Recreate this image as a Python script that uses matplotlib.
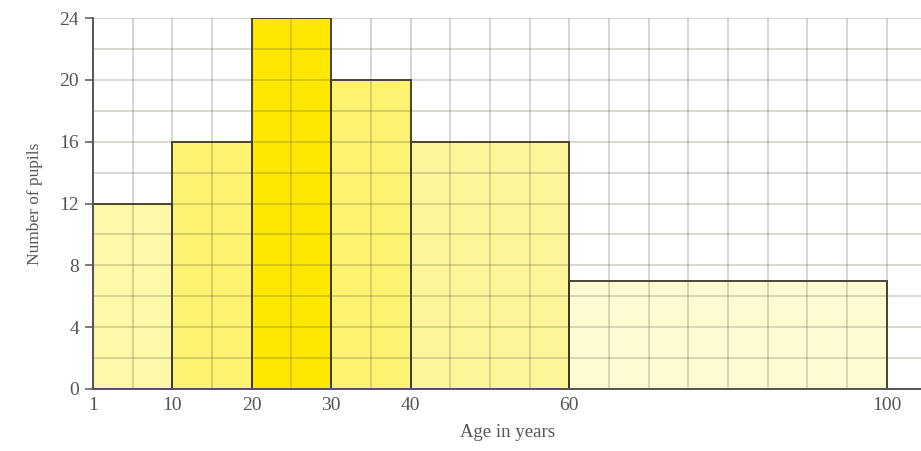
import matplotlib.pyplot as plt
from matplotlib.ticker import MultipleLocator

# class boundaries (the "1" label sits at the origin)
edges = [0, 10, 20, 30, 40, 60, 100]
heights = [12, 16, 24, 20, 16, 7]
colors = ['#fdf7a8', '#fdf370', '#ffe800', '#fdf370', '#fdf59a', '#fefbd2']
xtick_pos = [0, 10, 20, 30, 40, 60, 100]
xtick_labels = ['1', '10', '20', '30', '40', '60', '100']
yticks = [0, 4, 8, 12, 16, 20, 24]

plt.rcParams['font.family'] = ['Liberation Serif', 'DejaVu Serif']

fig = plt.figure(figsize=(9.21, 4.51), dpi=100)
ax = fig.add_axes([0.101, 0.1375, 0.899, 0.8225])

lefts = edges[:-1]
widths = [b - a for a, b in zip(edges[:-1], edges[1:])]
ax.bar(lefts, heights, width=widths, align='edge', color=colors,
       linewidth=0, zorder=1)
ax.bar(lefts, heights, width=widths, align='edge', fill=False,
       edgecolor='#3b3a28', linewidth=1.3, zorder=3)

ax.set_xlim(0, 104.3)
ax.set_ylim(0, 24)

ax.xaxis.set_minor_locator(MultipleLocator(5))
ax.yaxis.set_minor_locator(MultipleLocator(2))
ax.set_axisbelow(False)
ax.grid(which='both', color='#5a5a40', alpha=0.3, linewidth=1.1)

ax.set_xticks(xtick_pos)
ax.set_xticklabels(xtick_labels)
ax.set_yticks(yticks)
ax.tick_params(axis='x', which='both', length=0, pad=6, labelsize=14,
               labelcolor='#555555')
ax.tick_params(axis='y', which='major', length=6, width=1.1, color='#555555',
               pad=4, labelsize=14, labelcolor='#555555')
ax.tick_params(axis='y', which='minor', length=0)

for s in ['top', 'right']:
    ax.spines[s].set_visible(False)
for s in ['left', 'bottom']:
    ax.spines[s].set_color('#555555')
    ax.spines[s].set_linewidth(1.4)
    ax.spines[s].set_zorder(4)

ax.set_xlabel('Age in years', fontsize=13.5, color='#555555', labelpad=7)
ax.set_ylabel('Number of pupils', fontsize=12.5, color='#555555', labelpad=12)

fig.savefig('out.png', dpi=100)
